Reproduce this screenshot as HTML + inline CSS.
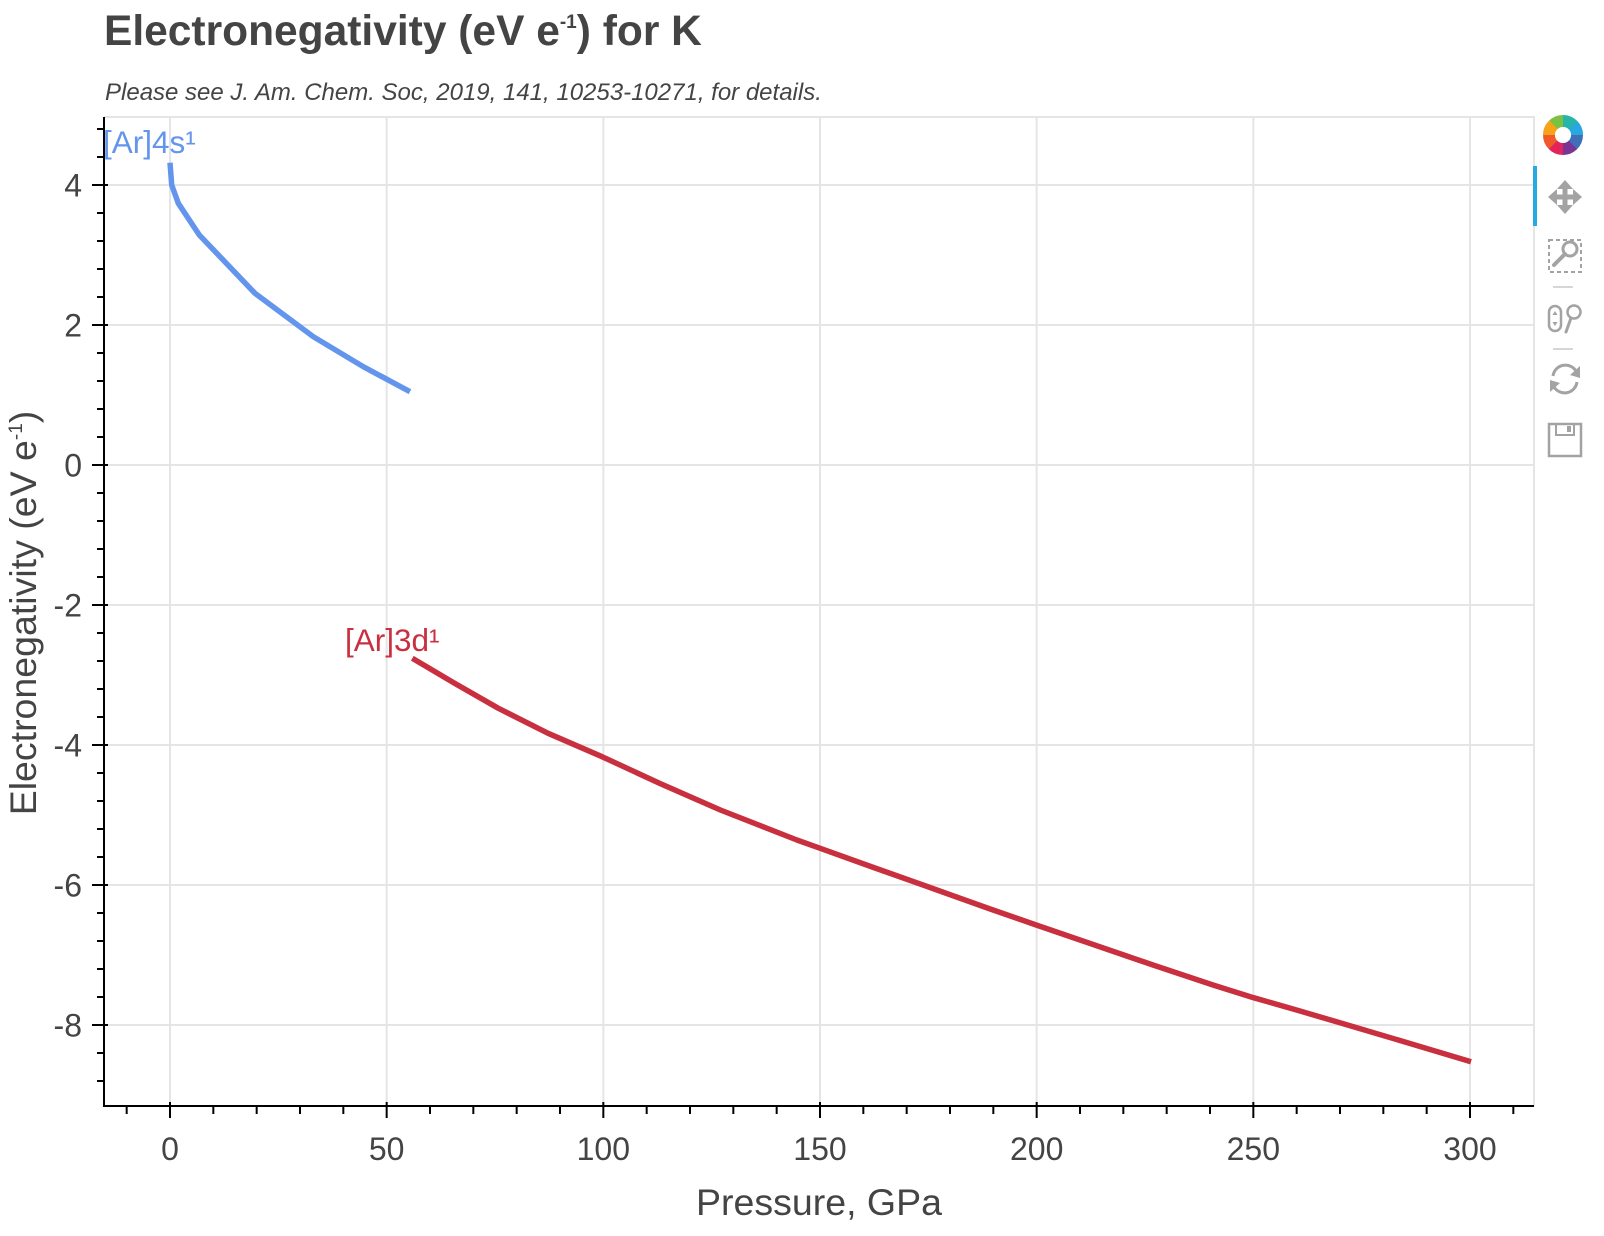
<!DOCTYPE html>
<html>
<head>
<meta charset="utf-8">
<style>
  html, body { margin:0; padding:0; background:#ffffff; }
  body { width:1604px; height:1236px; overflow:hidden; }
  svg { display:block; }
  text { font-family: "Liberation Sans", Helvetica, Arial, sans-serif; }
</style>
</head>
<body>
<svg width="1604" height="1236" viewBox="0 0 1604 1236" xmlns="http://www.w3.org/2000/svg">
  <rect x="0" y="0" width="1604" height="1236" fill="#ffffff"/>

  <!-- Title -->
  <text x="104" y="45" font-size="42.5" font-weight="bold" fill="#444444">Electronegativity (eV e<tspan font-size="19" dy="-17">-1</tspan><tspan dy="17">) for K</tspan></text>
  <text x="105" y="100" font-size="24" font-style="italic" fill="#444444">Please see J. Am. Chem. Soc, 2019, 141, 10253-10271, for details.</text>

  <!-- Grid lines -->
  <g stroke="#e5e5e5" stroke-width="2" fill="none">
    <path d="M170 117V1106 M386.67 117V1106 M603.33 117V1106 M820 117V1106 M1036.67 117V1106 M1253.33 117V1106 M1470 117V1106"/>
    <path d="M104 185H1534 M104 325H1534 M104 465H1534 M104 605H1534 M104 745H1534 M104 885H1534 M104 1025H1534"/>
  </g>

  <!-- Frame outline (top/right) -->
  <path d="M104 117H1534V1106" stroke="#e5e5e5" stroke-width="2" fill="none"/>

  <!-- Series -->
  <polyline fill="none" stroke="#6495ED" stroke-width="5.5" stroke-linejoin="round"
    points="170,162.7 171.7,185 178.3,203.3 199.3,235 255,293.3 313.3,336.7 363.3,366.7 410,391.7"/>
  <polyline fill="none" stroke="#C9303F" stroke-width="5.5" stroke-linejoin="round"
    points="412.3,658.3 455,683.5 498.4,708.3 548.1,733.3 602.1,756.7 660,783.5 720.4,810 796.9,840 820.2,848.3 875,868 930,887.5 988.8,908.5 1036.2,925 1094.6,945 1153,965 1213,985 1253.6,997.7 1300,1011 1344.2,1024 1410,1043.5 1471,1061.7"/>

  <!-- Series labels -->
  <text x="103" y="153" font-size="31.5" fill="#6495ED">[Ar]4s¹</text>
  <text x="345" y="651" font-size="31.5" fill="#C9303F">[Ar]3d¹</text>

  <!-- Axes -->
  <g stroke="#000000" stroke-width="2" fill="none">
    <path d="M104 117V1107"/>
    <path d="M103 1106H1534"/>
    <path d="M92 185H108 M92 325H108 M92 465H108 M92 605H108 M92 745H108 M92 885H108 M92 1025H108"/>
    <path d="M97 1081H104 M97 1053H104 M97 997H104 M97 969H104 M97 941H104 M97 913H104 M97 857H104 M97 829H104 M97 801H104 M97 773H104 M97 717H104 M97 689H104 M97 661H104 M97 633H104 M97 577H104 M97 549H104 M97 521H104 M97 493H104 M97 437H104 M97 409H104 M97 381H104 M97 353H104 M97 297H104 M97 269H104 M97 241H104 M97 213H104 M97 157H104 M97 129H104"/>
    <path d="M170 1102V1118 M386.67 1102V1118 M603.33 1102V1118 M820 1102V1118 M1036.67 1102V1118 M1253.33 1102V1118 M1470 1102V1118"/>
    <path d="M126.67 1106V1114 M213.33 1106V1114 M256.67 1106V1114 M300 1106V1114 M343.33 1106V1114 M430 1106V1114 M473.33 1106V1114 M516.67 1106V1114 M560 1106V1114 M646.67 1106V1114 M690 1106V1114 M733.33 1106V1114 M776.67 1106V1114 M863.33 1106V1114 M906.67 1106V1114 M950 1106V1114 M993.33 1106V1114 M1080 1106V1114 M1123.33 1106V1114 M1166.67 1106V1114 M1210 1106V1114 M1296.67 1106V1114 M1340 1106V1114 M1383.33 1106V1114 M1426.67 1106V1114 M1513.33 1106V1114"/>
  </g>

  <!-- Y tick labels -->
  <g font-size="32" fill="#444444" text-anchor="end">
    <text x="82" y="196.5">4</text>
    <text x="82" y="336.5">2</text>
    <text x="82" y="476.5">0</text>
    <text x="82" y="616.5">-2</text>
    <text x="82" y="756.5">-4</text>
    <text x="82" y="896.5">-6</text>
    <text x="82" y="1036.5">-8</text>
  </g>

  <!-- X tick labels -->
  <g font-size="32" fill="#444444" text-anchor="middle">
    <text x="170" y="1160">0</text>
    <text x="386.67" y="1160">50</text>
    <text x="603.33" y="1160">100</text>
    <text x="820" y="1160">150</text>
    <text x="1036.67" y="1160">200</text>
    <text x="1253.33" y="1160">250</text>
    <text x="1470" y="1160">300</text>
  </g>

  <!-- Axis labels -->
  <text x="819" y="1215" font-size="37.5" fill="#444444" text-anchor="middle">Pressure, GPa</text>
  <text transform="translate(36,613) rotate(-90)" x="0" y="0" font-size="37.5" fill="#444444" text-anchor="middle">Electronegativity (eV e<tspan font-size="19" dy="-14">-1</tspan><tspan dy="14">)</tspan></text>

  <!-- Toolbar -->
  <g>
    <g transform="translate(1563,135)">
      <circle r="14" fill="none" stroke="#7cc242" stroke-width="12" stroke-dasharray="11.5 76.5" transform="rotate(-135)"/>
      <circle r="14" fill="none" stroke="#26b5a8" stroke-width="12" stroke-dasharray="11.5 76.5" transform="rotate(-90)"/>
      <circle r="14" fill="none" stroke="#29a8e0" stroke-width="12" stroke-dasharray="11.5 76.5" transform="rotate(-45)"/>
      <circle r="14" fill="none" stroke="#3f6fb6" stroke-width="12" stroke-dasharray="11.5 76.5" transform="rotate(0)"/>
      <circle r="14" fill="none" stroke="#7a3594" stroke-width="12" stroke-dasharray="11.5 76.5" transform="rotate(45)"/>
      <circle r="14" fill="none" stroke="#e1245c" stroke-width="12" stroke-dasharray="11.5 76.5" transform="rotate(90)"/>
      <circle r="14" fill="none" stroke="#f05a28" stroke-width="12" stroke-dasharray="11.5 76.5" transform="rotate(135)"/>
      <circle r="14" fill="none" stroke="#f7a21b" stroke-width="12" stroke-dasharray="11.5 76.5" transform="rotate(180)"/>
      <circle r="8" fill="#ffffff"/>
    </g>
    <rect x="1533" y="166" width="4" height="60" fill="#26aae1"/>
    <g fill="#a3a3a3">
      <rect x="1552" y="194.5" width="26" height="5"/>
      <rect x="1562.5" y="184" width="5" height="26"/>
      <polygon points="1565,180 1573,189 1557,189"/>
      <polygon points="1565,214 1573,205 1557,205"/>
      <polygon points="1548,197 1557,189 1557,205"/>
      <polygon points="1582,197 1573,189 1573,205"/>
    </g>
    <rect x="1549" y="240" width="32" height="32" fill="none" stroke="#a3a3a3" stroke-width="2" stroke-dasharray="4 3"/>
    <circle cx="1570" cy="249" r="7" fill="none" stroke="#a3a3a3" stroke-width="3"/>
    <path d="M1565 254 L1554 265" stroke="#a3a3a3" stroke-width="4" stroke-linecap="round"/>
    <path d="M1553 287H1573" stroke="#d6d6d6" stroke-width="2"/>
    <rect x="1549" y="306" width="12" height="25" rx="6" fill="none" stroke="#a3a3a3" stroke-width="2.5"/>
    <path d="M1555 311 L1552.5 315 H1557.5 Z M1555 326 L1552.5 322 H1557.5 Z" fill="#a3a3a3"/>
    <circle cx="1574" cy="312" r="6.5" fill="none" stroke="#a3a3a3" stroke-width="2.5"/>
    <path d="M1571 318 L1566 332" stroke="#a3a3a3" stroke-width="3" stroke-linecap="round"/>
    <path d="M1553 349H1573" stroke="#d6d6d6" stroke-width="2"/>
    <path d="M1553 376 A12.5 12.5 0 0 1 1576 371" fill="none" stroke="#a3a3a3" stroke-width="3"/>
    <polygon points="1580,366 1580,378 1570,375" fill="#a3a3a3"/>
    <path d="M1577 382 A12.5 12.5 0 0 1 1554 387" fill="none" stroke="#a3a3a3" stroke-width="3"/>
    <polygon points="1550,392 1550,380 1560,383" fill="#a3a3a3"/>
    <rect x="1549" y="424" width="32" height="32" fill="none" stroke="#a3a3a3" stroke-width="2.5"/>
    <rect x="1556" y="424" width="18" height="11" fill="none" stroke="#a3a3a3" stroke-width="2"/>
    <rect x="1567" y="426" width="4" height="6" fill="#a3a3a3"/>
  </g>
</svg>
</body>
</html>
